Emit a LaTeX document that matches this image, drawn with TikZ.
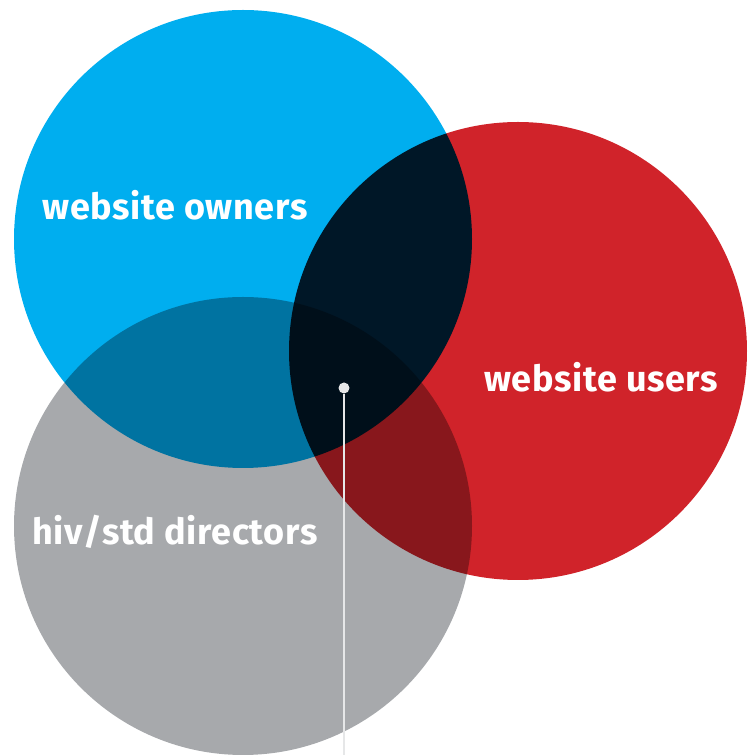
\documentclass[tikz,border=0pt]{standalone}
\usepackage{fontspec}
\setmainfont{Fira Sans}
\newfontfamily\labelfont[LetterSpace=1.7]{Fira Sans}
\usepackage{tikz}
\usetikzlibrary{positioning}

\definecolor{ownerblue}{RGB}{0,174,239}
\definecolor{userred}{RGB}{208,35,42}
\definecolor{dirgray}{RGB}{167,169,172}
\definecolor{pingray}{RGB}{230,231,232}

\begin{document}
\begin{tikzpicture}[x=1pt, y=1pt, set/.style={circle, minimum size=458pt, inner sep=0pt}, lbl/.style={text=white, anchor=base, font=\labelfont\fontsize{36}{36}\selectfont\bfseries}]
\useasboundingbox (0,0) rectangle (756,755);
\begin{scope}[blend group=multiply]
  \node[set, fill=ownerblue] (owners) at (243,516) {};
  \node[set, fill=userred] (users) at (518,404) {};
  \node[set, fill=dirgray] (directors) at (243,229) {};
\end{scope}
\node[lbl] (ownerslbl) at (175,535) {website owners};
\node[lbl] (userslbl) at (601,363) {website users};
\node[lbl] (directorslbl) at (175,210) {hiv/std directors};
% pointer
\coordinate (bottom) at (344,0);
\node[circle, fill=pingray, minimum size=11pt, inner sep=0pt] (pin) at (344,367) {};
\draw[pingray, line width=2pt] (pin) -- (bottom);
\end{tikzpicture}
\end{document}
